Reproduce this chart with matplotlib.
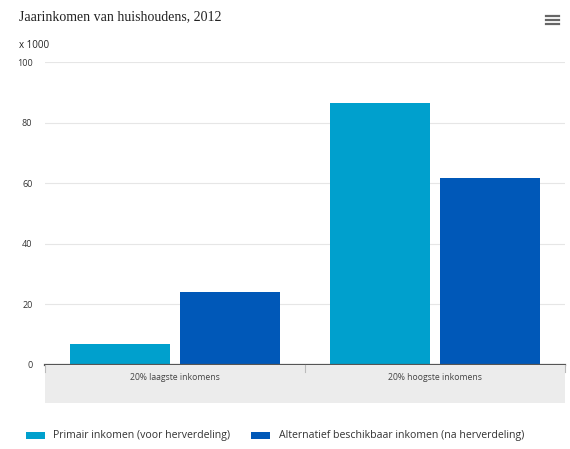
import matplotlib
matplotlib.use("Agg")
from matplotlib import pyplot as plt
from matplotlib.patches import Rectangle
import numpy as np

# data (x 1000 euro)
categories = ["20% laagste inkomens", "20% hoogste inkomens"]
series_names = ["Primair inkomen (voor herverdeling)",
                "Alternatief beschikbaar inkomen (na herverdeling)"]
primair = [6.8, 86.5]
alternatief = [24.0, 61.8]
yticks = [0, 20, 40, 60, 80, 100]

colors = ["#00a0cd", "#0058b8"]
W, H = 570, 449

plt.rcParams['font.family'] = ['Open Sans', 'DejaVu Sans']
fig = plt.figure(figsize=(W / 100, H / 100), dpi=100)

# plot area in pixels: x 45..565, y 62 (100) .. 365 (0)
x0, x1, ytop, ybot = 45, 565, 62, 365
ax = fig.add_axes([x0 / W, 1 - ybot / H, (x1 - x0) / W, (ybot - ytop) / H])

x = np.arange(len(categories))
bw = 0.385
ax.bar(x - 0.21, primair, bw, color=colors[0], label=series_names[0], zorder=3)
ax.bar(x + 0.21, alternatief, bw, color=colors[1], label=series_names[1], zorder=3)

ax.set_xlim(-0.5, len(categories) - 0.5)
ax.set_ylim(0, 100)
ax.set_yticks(yticks)
ax.set_yticklabels([str(v) for v in yticks], fontsize=6.5, color="#333333")
ax.tick_params(axis='y', length=0, pad=9)
ax.set_xticks([])
ax.grid(axis='y', color='#e6e6e6', linewidth=0.8, zorder=0)
for s in ['top', 'right', 'left']:
    ax.spines[s].set_visible(False)
ax.spines['bottom'].set_color('#555555')
ax.spines['bottom'].set_linewidth(1.6)
ax.spines['bottom'].set_zorder(4)

# grey category band under the axis
band = Rectangle((x0 / W, 1 - 403 / H), (x1 - x0) / W, (403 - 365) / H,
                 transform=fig.transFigure, facecolor='#ececec', edgecolor='none', zorder=0)
fig.patches.append(band)
for i, c in enumerate(categories):
    xf = (x0 + (i + 0.5) * (x1 - x0) / len(categories)) / W
    fig.text(xf, 1 - 378 / H, c, ha='center', va='center', fontsize=6.2, color='#444444')
# divider ticks between categories
for i in range(len(categories) + 1):
    xp = (x0 + i * (x1 - x0) / len(categories)) / W
    fig.add_artist(plt.Line2D([xp, xp], [1 - 365 / H, 1 - 372 / H],
                              transform=fig.transFigure, color='#bbbbbb', linewidth=0.8))

fig.text(19 / W, 1 - 17 / H, "Jaarinkomen van huishoudens, 2012",
         family=['Liberation Serif', 'DejaVu Serif'], fontsize=10, color='#222222', va='center')
fig.text(19 / W, 1 - 45 / H, "x 1000", fontsize=7, color='#222222', va='center')

# menu icon
for yy in [16, 20, 24]:
    fig.add_artist(plt.Line2D([546 / W, 559 / W], [1 - yy / H, 1 - yy / H],
                              transform=fig.transFigure, color='#666666', linewidth=1.6))

# legend
leg_y = 1 - 435.5 / H
fig.patches.append(Rectangle((26 / W, leg_y - 3.5 / H), 19 / W, 7 / H,
                             transform=fig.transFigure, facecolor=colors[0]))
fig.text(53 / W, leg_y, series_names[0], fontsize=7.6, color='#333333', va='center')
fig.patches.append(Rectangle((251 / W, leg_y - 3.5 / H), 19 / W, 7 / H,
                             transform=fig.transFigure, facecolor=colors[1]))
fig.text(279 / W, leg_y, series_names[1], fontsize=7.6, color='#333333', va='center')

fig.savefig("out.png", dpi=100, facecolor='white')
